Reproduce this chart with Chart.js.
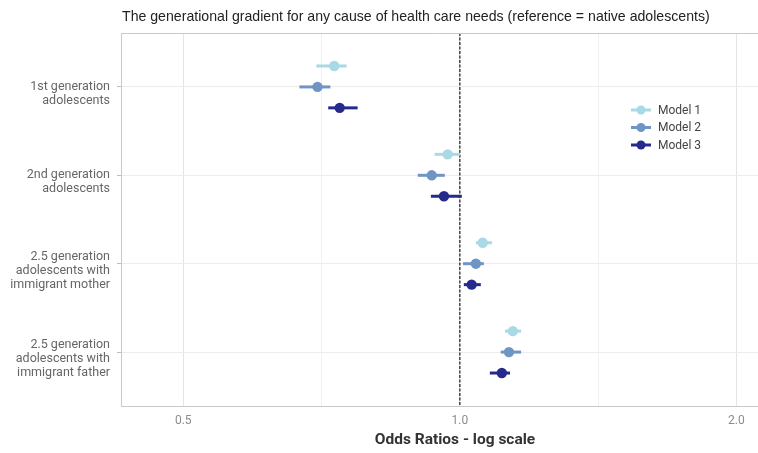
<!DOCTYPE html>
<html>
<head>
<meta charset="utf-8">
<script src="https://cdn.jsdelivr.net/npm/chart.js@4/dist/chart.umd.min.js"></script>
<style>
html,body{margin:0;padding:0;background:#fff;}
#wrap{width:758px;height:453px;}
</style>
</head>
<body>
<div id="wrap"><canvas id="c" width="758" height="453"></canvas></div>
<script>
const chartTitle = "The generational gradient for any cause of health care needs (reference = native adolescents)";
const xAxisTitle = "Odds Ratios - log scale";
const categories = [
  ["1st generation", "adolescents"],
  ["2nd generation", "adolescents"],
  ["2.5 generation", "adolescents with", "immigrant mother"],
  ["2.5 generation", "adolescents with", "immigrant father"]
];
const modelNames = ["Model 1", "Model 2", "Model 3"];
const model1Or = [0.730, 0.970, 1.059, 1.142];
const model1Lo = [0.698, 0.939, 1.041, 1.120];
const model1Hi = [0.753, 1.000, 1.084, 1.166];
const model2Or = [0.700, 0.932, 1.041, 1.131];
const model2Lo = [0.669, 0.900, 1.008, 1.108];
const model2Hi = [0.723, 0.963, 1.062, 1.166];
const model3Or = [0.740, 0.961, 1.030, 1.111];
const model3Lo = [0.719, 0.930, 1.010, 1.078];
const model3Hi = [0.774, 1.005, 1.054, 1.134];
const xTickValues = [0.5, 1.0, 2.0];
const xTickLabels = ["0.5", "1.0", "2.0"];
const referenceValue = 1.0;

const colors = ["#a8d9e5", "#6f95c5", "#262b8b"];
const dodge = [-0.237, 0, 0.237];
const models = [
  {or: model1Or, lo: model1Lo, hi: model1Hi},
  {or: model2Or, lo: model2Lo, hi: model2Hi},
  {or: model3Or, lo: model3Lo, hi: model3Hi}
];
const yMin = -0.61, yMax = categories.length - 1 + 0.61;

const datasets = [];
models.forEach((m, mi) => {
  datasets.push({
    type: 'scatter', label: modelNames[mi], order: 0,
    data: m.or.map((v, ci) => ({x: v, y: ci + dodge[mi]})),
    backgroundColor: colors[mi], borderColor: colors[mi],
    pointRadius: 5.2, pointHoverRadius: 5.2, borderWidth: 0
  });
  m.or.forEach((v, ci) => {
    datasets.push({
      type: 'line', label: '_ci', order: 1,
      data: [{x: m.lo[ci], y: ci + dodge[mi]}, {x: m.hi[ci], y: ci + dodge[mi]}],
      borderColor: colors[mi], borderWidth: 3, pointRadius: 0, fill: false
    });
  });
});
datasets.push({
  type: 'line', label: '_ref', order: 2,
  data: [{x: referenceValue, y: yMin}, {x: referenceValue, y: yMax}],
  borderColor: '#2a2a2a', borderWidth: 1.3, borderDash: [3, 1.5], pointRadius: 0, fill: false
});

const minorTicks = [];
for (let i = 0; i < xTickValues.length - 1; i++) minorTicks.push(Math.sqrt(xTickValues[i] * xTickValues[i + 1]));

const decor = {
  id: 'decor',
  afterDraw(chart) {
    const ctx = chart.ctx, a = chart.chartArea;
    ctx.save();
    // top border
    ctx.strokeStyle = '#c9c9c9'; ctx.lineWidth = 1;
    ctx.beginPath(); ctx.moveTo(a.left, a.top + 0.5); ctx.lineTo(a.right, a.top + 0.5); ctx.stroke();
    // title, sized to span the same width as the reference
    ctx.fillStyle = '#222';
    let fs = 12.5;
    ctx.font = fs + 'px "Liberation Sans", Arial, sans-serif';
    fs = fs * 588 / ctx.measureText(chartTitle).width;
    ctx.font = fs.toFixed(2) + 'px "Liberation Sans", Arial, sans-serif';
    ctx.textBaseline = 'middle'; ctx.textAlign = 'left';
    ctx.fillText(chartTitle, a.left + 1, 17);
    // x axis title
    ctx.font = 'bold 15.5px Roboto, sans-serif';
    ctx.fillStyle = '#333'; ctx.textAlign = 'center';
    ctx.fillText(xAxisTitle, 455, 440);
    // legend
    modelNames.forEach((n, i) => {
      const y = 110 + i * 17.5;
      ctx.strokeStyle = colors[i]; ctx.lineWidth = 3;
      ctx.beginPath(); ctx.moveTo(631, y); ctx.lineTo(651, y); ctx.stroke();
      ctx.fillStyle = colors[i];
      ctx.beginPath(); ctx.arc(641, y, 4.5, 0, Math.PI * 2); ctx.fill();
      ctx.fillStyle = '#444'; ctx.font = '12px Roboto, sans-serif'; ctx.textAlign = 'left';
      ctx.fillText(n, 658, y + 0.5);
    });
    ctx.restore();
  }
};

new Chart(document.getElementById('c'), {
  type: 'scatter',
  data: {datasets},
  options: {
    responsive: false, animation: false, devicePixelRatio: 1,
    layout: {autoPadding: false, padding: {top: 33, left: 0, right: 0, bottom: 0}},
    plugins: {legend: {display: false}, tooltip: {enabled: false}, title: {display: false}},
    scales: {
      x: {
        type: 'logarithmic', min: 0.4278, max: 2.111,
        afterBuildTicks: s => { s.ticks = xTickValues.concat(minorTicks).sort((p, q) => p - q).map(v => ({value: v})); },
        afterFit: s => { s.height = 47; },
        ticks: {
          autoSkip: false, maxRotation: 0, padding: 8, color: '#8c8c8c',
          font: {family: 'Roboto', size: 12},
          callback: (v) => { const i = xTickValues.findIndex(t => Math.abs(t - v) < 1e-6); return i >= 0 ? xTickLabels[i] : ''; }
        },
        grid: {
          drawTicks: false,
          color: c => (c.tick && xTickValues.some(t => Math.abs(t - c.tick.value) < 1e-6)) ? '#e4e4e4' : '#f0f0f0',
          lineWidth: 1
        },
        border: {color: '#c9c9c9', width: 1}
      },
      y: {
        type: 'linear', reverse: true, min: yMin, max: yMax,
        afterBuildTicks: s => { s.ticks = categories.map((c, i) => ({value: i})); },
        afterFit: s => { s.width = 121; },
        ticks: {
          autoSkip: false, padding: 7, color: '#666', labelOffset: 7,
          font: {family: 'Roboto', size: 12.5, lineHeight: 1.12},
          callback: (v) => categories[Math.round(v)]
        },
        grid: {color: '#ececec', tickColor: '#bdbdbd', tickLength: 4, lineWidth: 1},
        border: {color: '#c9c9c9', width: 1}
      }
    }
  },
  plugins: [decor]
});
</script>
</body>
</html>
